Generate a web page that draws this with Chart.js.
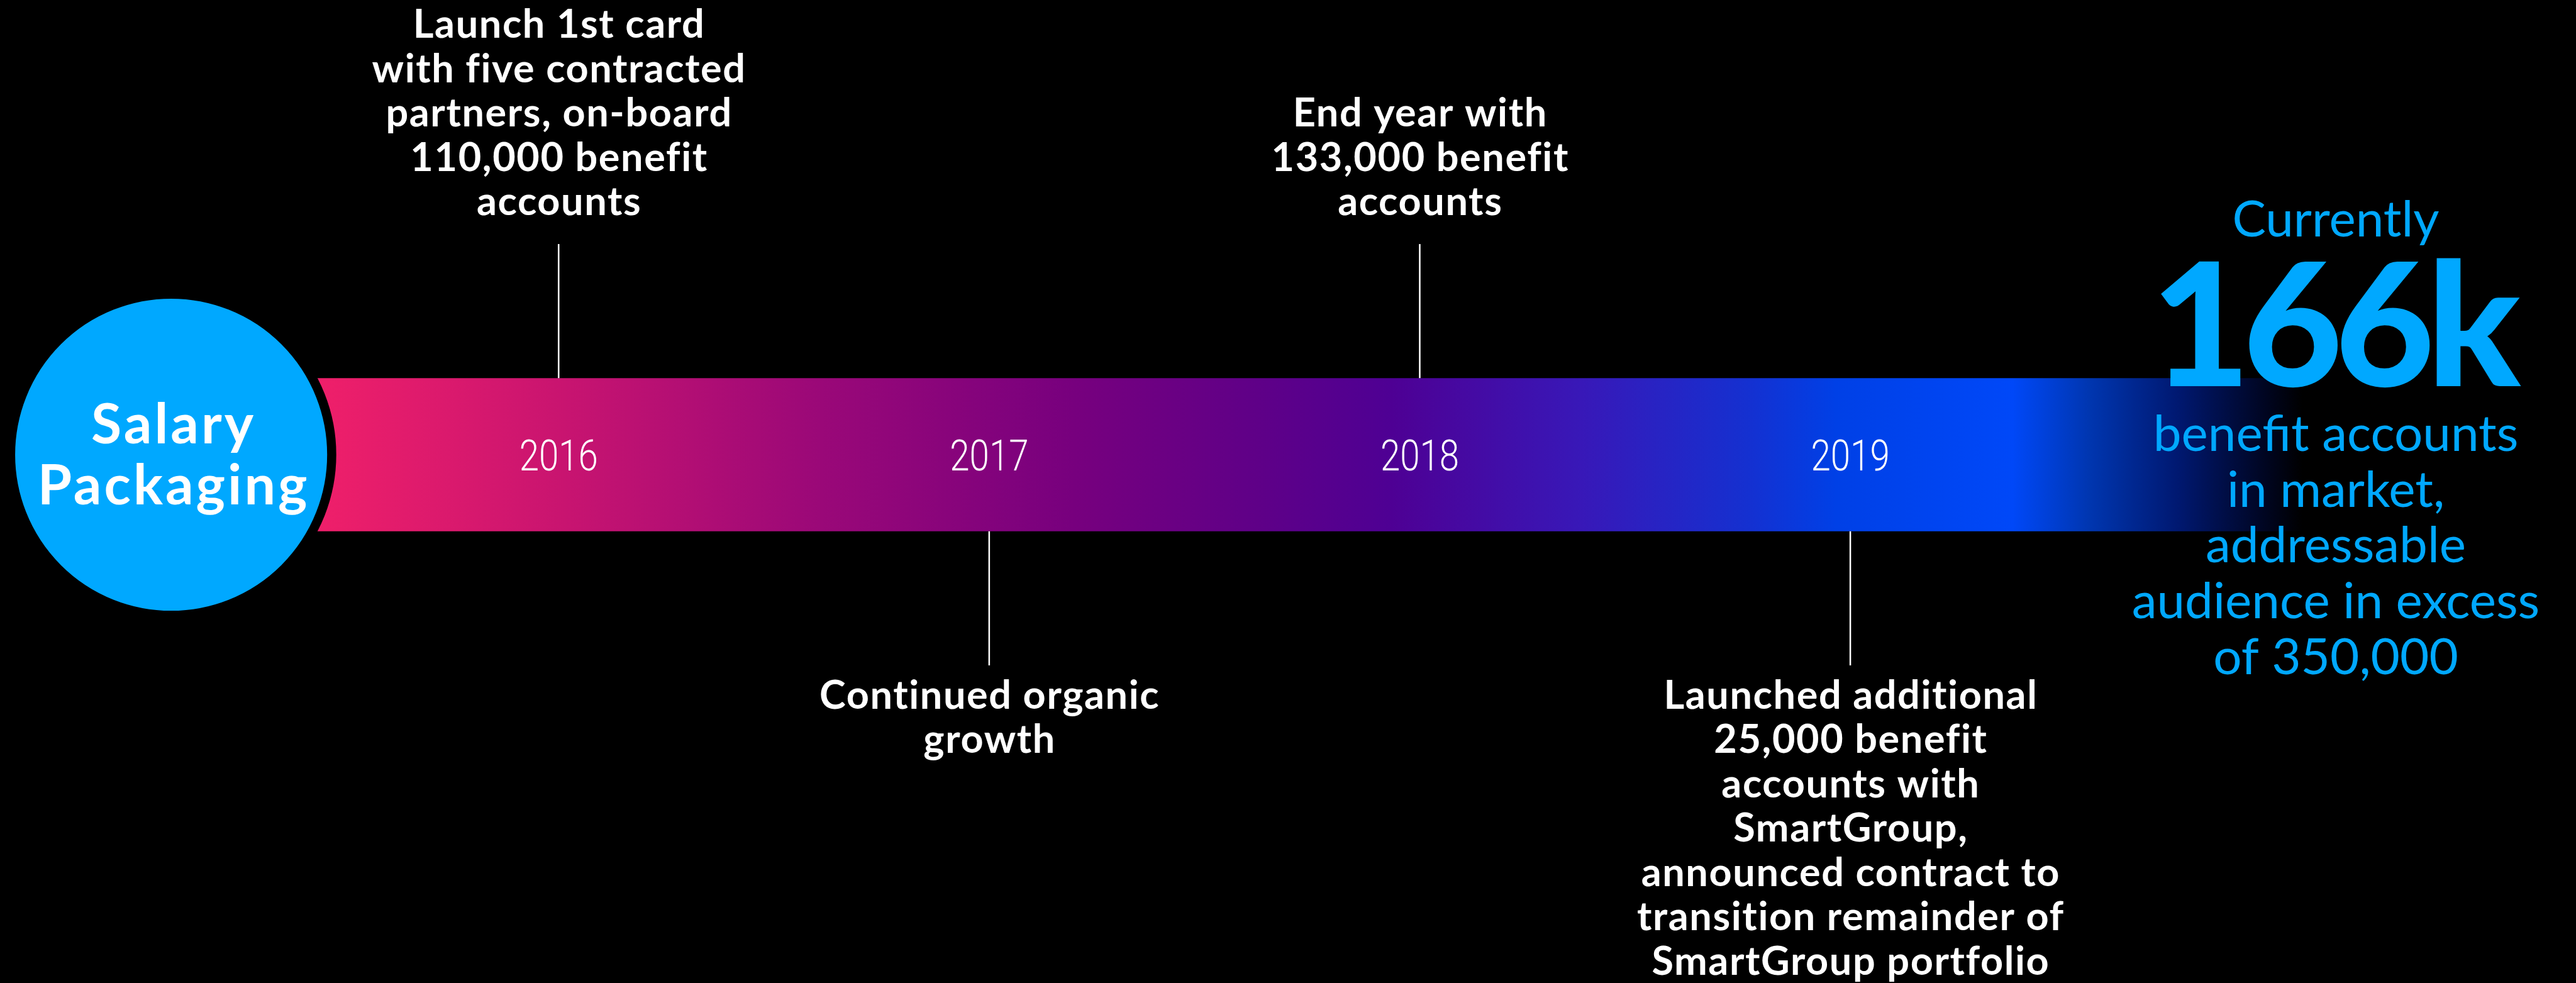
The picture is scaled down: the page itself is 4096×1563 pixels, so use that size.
<!DOCTYPE html>
<html>
<head>
<meta charset="utf-8">
<title>Salary Packaging timeline</title>
<script src="https://cdn.jsdelivr.net/npm/chart.js@4.4.1/dist/chart.umd.min.js"></script>
<style>
  html, body { margin: 0; padding: 0; background: #000; overflow: hidden; }
  #wrap { position: relative; width: 4096px; height: 1563px; background: #000; }
  canvas { display: block; }
</style>
</head>
<body>
<div id="wrap"><canvas id="timeline"></canvas></div>
<script>
// ---- Timeline content ----
const years = [2016, 2017, 2018, 2019];
const yearLabels = ['2016', '2017', '2018', '2019'];
// Which side of the band each milestone note sits on
const noteSides = ['above', 'below', 'above', 'below'];
const notes = [
  ['Launch 1st card', 'with five contracted', 'partners, on-board', '110,000 benefit', 'accounts'],
  ['Continued organic', 'growth'],
  ['End year with', '133,000 benefit', 'accounts'],
  ['Launched additional', '25,000 benefit', 'accounts with', 'SmartGroup,', 'announced contract to',
   'transition remainder of', 'SmartGroup portfolio']
];
// Extent of the band in years; it fades out after the last milestone
const bandStart = 2015.1;
const bandEnd = 2020.05;
const badgeLines = ['Salary', 'Packaging'];
const calloutLead = 'Currently';
const calloutValue = '166k';
const calloutLines = ['benefit accounts', 'in market,', 'addressable', 'audience in excess', 'of 350,000'];

// ---- Layout & style ----
const W = 4096, H = 1563;
const X_MIN = 2014.7025, X_MAX = 2020.6855;
const BAND_CENTRE_PX = 723;
const BAND_HALF = 121.8;                 // half thickness of the band, px
// y is measured in band half-thicknesses, 0 = band centre
const Y_MIN = -(H - BAND_CENTRE_PX) / BAND_HALF;
const Y_MAX = BAND_CENTRE_PX / BAND_HALF;
const CONNECTOR_END = 2.75;
const BLUE = '#00A8FF';
const bandStops = [
  [0.000, '#F2216A'], [0.072, '#EE1F6A'], [0.185, '#C81470'], [0.305, '#9A0878'],
  [0.424, '#77007E'], [0.513, '#5E0088'], [0.573, '#4E0094'], [0.662, '#3818B8'],
  [0.739, '#1530D0'], [0.781, '#0040E6'], [0.864, '#0048F8'], [0.900, '#0036B0'],
  [0.942, '#001870'], [0.983, '#000520'], [1.000, '#000000']
];

function bandGradient(context) {
  const chart = context.chart;
  if (!chart.chartArea) return '#EE1F6A';
  const xs = chart.scales.x;
  const x0 = xs.getPixelForValue(bandStart);
  const x1 = xs.getPixelForValue(bandEnd);
  const g = chart.ctx.createLinearGradient(x0, 0, x1, 0);
  bandStops.forEach(([o, c]) => g.addColorStop(o, c));
  return g;
}

const connectorSets = years.map((yr, i) => {
  const s = noteSides[i] === 'above' ? 1 : -1;
  return {
    type: 'line',
    data: [{ x: yr, y: s * 1 }, { x: yr, y: s * CONNECTOR_END }],
    borderColor: '#FFFFFF',
    borderWidth: 2.5,
    pointRadius: 0,
    showLine: true,
    fill: false,
    order: 1,
    clip: false
  };
});

// Draws centred text with extra tracking, keeping the line centred
function trackedText(ctx, text, x, y, spacing) {
  ctx.letterSpacing = spacing + 'px';
  ctx.fillText(text, x + spacing / 2, y);
  ctx.letterSpacing = '0px';
}

const textPlugin = {
  id: 'timelineText',
  afterDatasetsDraw(chart) {
    const { ctx, scales: { x, y } } = chart;
    const yc = y.getPixelForValue(0);
    ctx.save();
    ctx.textAlign = 'center';
    ctx.textBaseline = 'alphabetic';
    ctx.fillStyle = '#FFFFFF';

    // Year labels inside the band
    ctx.font = '300 68px Roboto';
    years.forEach((yr, i) => {
      ctx.save();
      ctx.translate(x.getPixelForValue(yr), yc + 24.5);
      ctx.scale(0.83, 1);
      ctx.fillText(yearLabels[i], 0, 0);
      ctx.restore();
    });

    // Milestone notes
    ctx.font = '700 63px Lato';
    const lh = 70.5;
    years.forEach((yr, i) => {
      const px = x.getPixelForValue(yr);
      const lines = notes[i];
      if (noteSides[i] === 'above') {
        const lastBase = y.getPixelForValue(CONNECTOR_END) - 46;
        lines.forEach((t, k) => trackedText(ctx, t, px, lastBase - (lines.length - 1 - k) * lh, 1.6));
      } else {
        const firstBase = y.getPixelForValue(-CONNECTOR_END) + 69;
        lines.forEach((t, k) => trackedText(ctx, t, px, firstBase + k * lh, 1.6));
      }
    });

    // Badge title
    ctx.font = '700 88px Lato';
    const bx = x.getPixelForValue(bandStart) + 2;
    trackedText(ctx, badgeLines[0], bx, yc - 18, 4);
    trackedText(ctx, badgeLines[1], bx, yc + 79, 4);

    // Current-state callout
    const cx = chart.chartArea.right - 382;
    ctx.fillStyle = BLUE;
    ctx.font = '400 80px Lato';
    ctx.fillText(calloutLead, cx, 376);
    ctx.font = '900 273px Lato';
    trackedText(ctx, calloutValue, cx, 614, -12);
    ctx.font = '400 80px Lato';
    calloutLines.forEach((t, k) => ctx.fillText(t, cx, 717 + k * 88.7));
    ctx.restore();
  }
};

function build() {
  const canvas = document.getElementById('timeline');
  canvas.width = W; canvas.height = H;
  new Chart(canvas, {
    type: 'scatter',
    data: {
      datasets: [
        {
          type: 'bubble',
          data: [{ x: bandStart, y: 0, r: 255.3 }],
          backgroundColor: BLUE,
          borderColor: '#000000',
          borderWidth: 14.5,
          order: 0,
          clip: false
        },
        ...connectorSets,
        {
          type: 'line',
          data: [{ x: bandStart, y: 0 }, { x: bandEnd, y: 0 }],
          borderColor: bandGradient,
          borderWidth: BAND_HALF * 2,
          borderCapStyle: 'butt',
          pointRadius: 0,
          showLine: true,
          fill: false,
          order: 2,
          clip: false
        }
      ]
    },
    options: {
      responsive: false,
      devicePixelRatio: 1,
      animation: false,
      events: [],
      layout: { padding: 0, autoPadding: false },
      plugins: { legend: { display: false }, tooltip: { enabled: false } },
      scales: {
        x: { type: 'linear', min: X_MIN, max: X_MAX, display: false },
        y: { type: 'linear', min: Y_MIN, max: Y_MAX, display: false }
      }
    },
    plugins: [textPlugin]
  });
}

const fontsToLoad = ['700 63px Lato', '700 88px Lato', '400 80px Lato', '900 273px Lato', '300 68px Roboto'];
Promise.all(fontsToLoad.map(f => document.fonts.load(f))).catch(() => {}).then(build);
</script>
</body>
</html>
